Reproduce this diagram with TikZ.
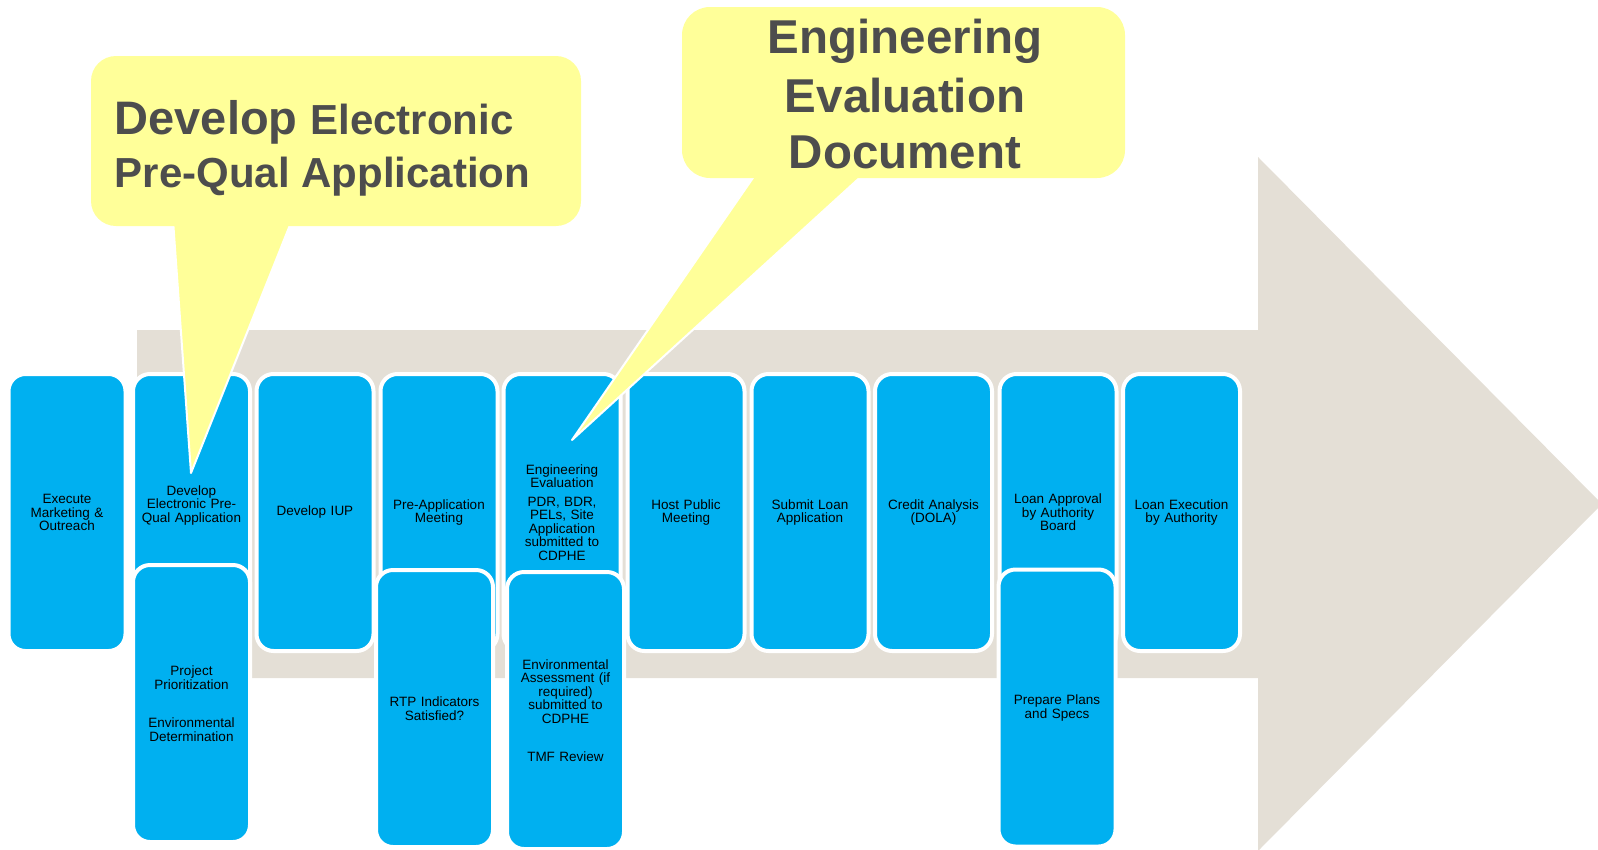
\documentclass[tikz,border=0pt]{standalone}
\usepackage{fontspec}
\setmainfont{Liberation Sans}
\definecolor{boxblue}{HTML}{00B0F0}
\definecolor{beige}{HTML}{E4DFD6}
\definecolor{calloutyellow}{HTML}{FFFF99}
\definecolor{callouttext}{HTML}{4D4D4D}
\begin{document}
\begin{tikzpicture}[x=1pt,y=-1pt,
  bbox/.style={draw=white, line width=4pt, fill=boxblue, rounded corners=17pt,
    minimum width=117pt, minimum height=277pt, inner sep=0pt, align=center,
    text width=112pt, font=\fontsize{13.5}{13.5}\selectfont, text=black},
  callbody/.style={fill=calloutyellow, draw=none, inner sep=0pt},
  pointer/.style={fill=calloutyellow, draw=white, line width=2pt, line join=round},
  calltext/.style={inner sep=0pt, text=callouttext, font=\bfseries\fontsize{47.5}{47.5}\selectfont}
]
\path[use as bounding box] (0,0) rectangle (1598,849);
\clip (0,0) rectangle (1598,849);

% big background arrow
\fill[beige] (137,330) -- (1258,330) -- (1258,157) -- (1602,504) -- (1258,851)
  -- (1258,678) -- (137,678) -- cycle;

% top row
\node[bbox] (b1) at (67,512.5) {Execute\\Marketing \&\\Outreach};
\node[bbox, minimum height=263pt] (b2) at (191.5,505.5) {Develop\\Electronic Pre-\\Qual Application};
\node[bbox] (b3) at (315,512.5) {Develop IUP};
\node[bbox] (b4) at (439,512.5) {Pre-Application\\Meeting};
\node[bbox] (b5) at (562,512.5) {Engineering\\Evaluation\\[5pt]PDR, BDR,\\PELs, Site\\Application\\submitted to\\CDPHE};
\node[bbox] (b6) at (686,512.5) {Host Public\\Meeting};
\node[bbox] (b7) at (810,512.5) {Submit Loan\\Application};
\node[bbox] (b8) at (933.5,512.5) {Credit Analysis\\(DOLA)};
\node[bbox] (b9) at (1058,512.5) {Loan Approval\\by Authority\\Board};
\node[bbox] (b10) at (1181.5,512.5) {Loan Execution\\by Authority};

% lower row
\node[bbox] (s2) at (191.5,703.5) {Project\\Prioritization\\[25pt]Environmental\\Determination};
\node[bbox] (s4) at (434.5,708.5) {RTP Indicators\\Satisfied?};
\node[bbox] (s5) at (565.5,710.5) {Environmental\\Assessment (if\\required)\\submitted to\\CDPHE\\[25pt]TMF Review};
\node[bbox] (s9) at (1057,708) {Prepare Plans\\and Specs};

% callout 1
\coordinate (tip1) at (191,473);
\draw[pointer] (173,220) -- (tip1) -- (292,220) -- cycle;
\node[callbody, rounded corners=25pt, minimum width=490pt, minimum height=170pt] (c1) at (336,141) {};
\node[calltext, anchor=base west] (c1a) at (114.5,134) {\fontsize{47}{47}\selectfont Develop \fontsize{42}{42}\selectfont Electronic};
\node[calltext, anchor=base west, font=\bfseries\fontsize{42}{42}\selectfont] (c1b) at (114.5,187) {Pre-Qual Application};

% callout 2
\coordinate (tip2) at (572,440);
\draw[pointer] (757,172) -- (tip2) -- (866,172) -- cycle;
\node[callbody, rounded corners=28pt, minimum width=443pt, minimum height=171pt] (c2) at (903.5,92.5) {};
\node[calltext, anchor=base] (c2a) at (905,53) {Engineering};
\node[calltext, anchor=base] (c2b) at (905,112) {Evaluation};
\node[calltext, anchor=base] (c2c) at (905,168) {Document};
\end{tikzpicture}
\end{document}
